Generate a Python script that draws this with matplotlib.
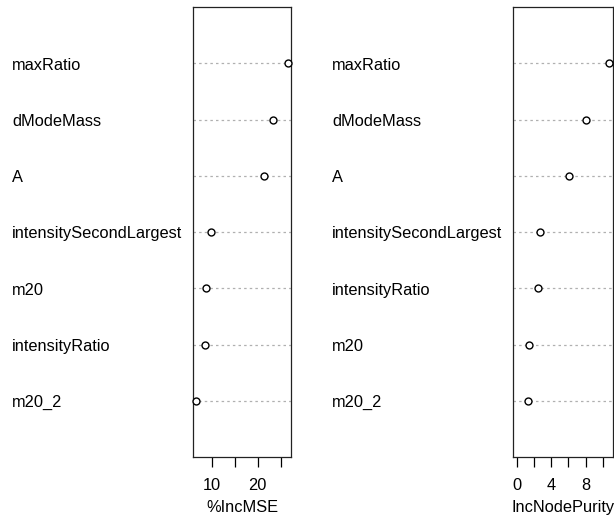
import matplotlib.pyplot as plt
import matplotlib.transforms as mtransforms

plt.rcParams['font.family'] = ['Liberation Sans', 'DejaVu Sans']
plt.rcParams['font.size'] = 11.8

# variable importance, listed top to bottom as drawn
mse_vars = ['maxRatio', 'dModeMass', 'A', 'intensitySecondLargest',
            'm20', 'intensityRatio', 'm20_2']
mse_vals = [26.53, 23.36, 21.42, 9.78, 8.58, 8.37, 6.55]

purity_vars = ['maxRatio', 'dModeMass', 'A', 'intensitySecondLargest',
               'intensityRatio', 'm20', 'm20_2']
purity_vals = [10.74, 8.0, 6.1, 2.74, 2.43, 1.36, 1.33]

mse_ticks = [10, 15, 20, 25]
mse_ticklabels = ['10', '', '20', '']
purity_ticks = [0, 2, 4, 6, 8, 10]
purity_ticklabels = ['0', '', '4', '', '8', '']


def dotchart(fig, rect, names, vals, xmin, ticks, ticklabels, xlabel, label_x):
    ax = fig.add_axes(rect)
    n = len(vals)
    ys = list(range(n, 0, -1))

    for y in ys:
        ax.axhline(y, color='#b0b0b0', lw=0.9, linestyle=(0, (2, 2.5)), zorder=1)
    ax.plot(vals, ys, 'o', mfc='white', mec='black', mew=1.0, ms=5,
            zorder=3, clip_on=False)

    lo = min(xmin, min(vals))
    hi = max(vals)
    pad = 0.04 * (hi - lo)
    ax.set_xlim(lo - pad, hi + pad)
    ax.set_ylim(0, n + 1)

    ax.set_yticks([])
    ax.set_xticks(ticks)
    ax.set_xticklabels(ticklabels)
    ax.tick_params(axis='x', direction='out', length=7.2, width=0.9, pad=8)
    ax.set_xlabel(xlabel, labelpad=5)
    for sp in ax.spines.values():
        sp.set_linewidth(0.9)
        sp.set_color('#222222')

    trans = mtransforms.blended_transform_factory(fig.transFigure, ax.transData)
    for name, y in zip(names, ys):
        ax.text(label_x, y - 0.03, name, transform=trans, ha='left', va='center')
    return ax


fig = plt.figure(figsize=(6.14, 5.16), dpi=100)

dotchart(fig, [0.3138, 0.1143, 0.1606, 0.8716], mse_vars, mse_vals,
         min(mse_vals), mse_ticks, mse_ticklabels, '%IncMSE', 12 / 614)
dotchart(fig, [0.836, 0.1143, 0.1619, 0.8716], purity_vars, purity_vals,
         0, purity_ticks, purity_ticklabels, 'IncNodePurity', 332 / 614)

fig.savefig('out.png', dpi=100)
